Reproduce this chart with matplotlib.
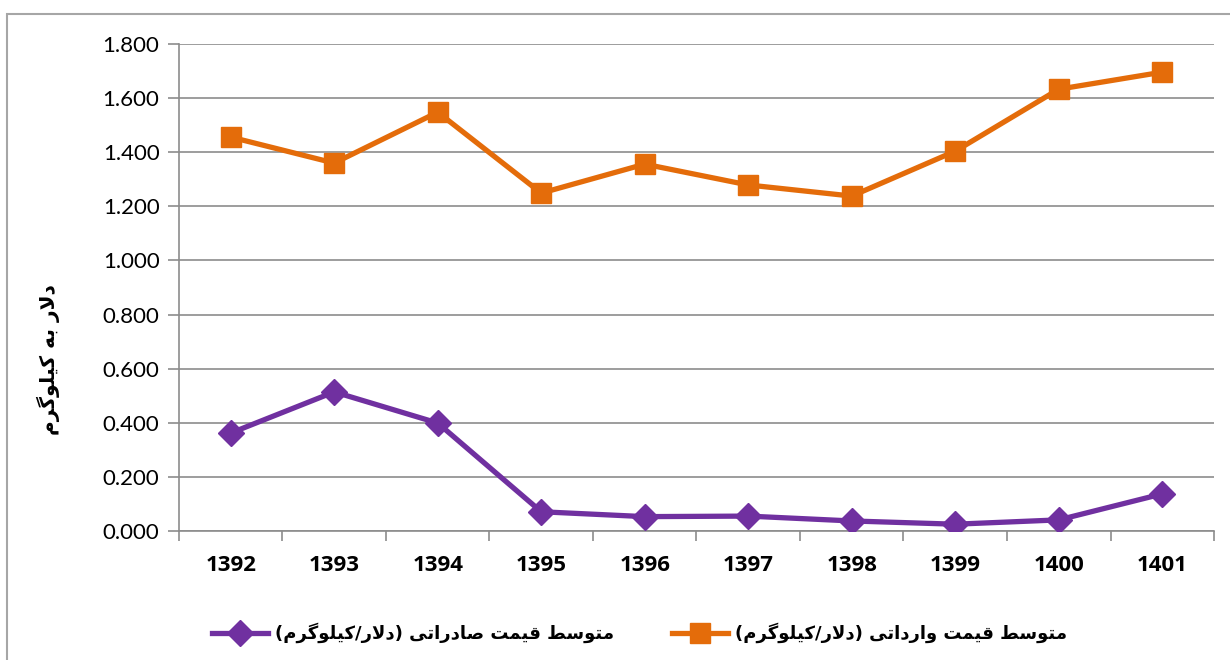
import matplotlib
matplotlib.use("Agg")

import matplotlib.pyplot as plt
from matplotlib.patches import Rectangle
from matplotlib.ticker import FixedLocator, FuncFormatter

years = ["1392", "1393", "1394", "1395", "1396", "1397", "1398", "1399", "1400", "1401"]
import_price = [1.456, 1.360, 1.548, 1.249, 1.356, 1.279, 1.238, 1.404, 1.633, 1.696]
export_price = [0.362, 0.514, 0.399, 0.071, 0.053, 0.055, 0.037, 0.025, 0.041, 0.137]

export_label = "متوسط قیمت صادراتی (دلار/کیلوگرم)"
import_label = "متوسط قیمت وارداتی (دلار/کیلوگرم)"
y_label = "دلار به کیلوگرم"

# contextual forms: isolated, final, initial, medial (None = does not join forward)
FORMS = {
    "ا": ("\uFE8D", "\uFE8E", None, None),
    "د": ("\uFEA9", "\uFEAA", None, None),
    "ر": ("\uFEAD", "\uFEAE", None, None),
    "و": ("\uFEED", "\uFEEE", None, None),
    "ب": ("\uFE8F", "\uFE90", "\uFE91", "\uFE92"),
    "ت": ("\uFE95", "\uFE96", "\uFE97", "\uFE98"),
    "س": ("\uFEB1", "\uFEB2", "\uFEB3", "\uFEB4"),
    "ص": ("\uFEB9", "\uFEBA", "\uFEBB", "\uFEBC"),
    "ط": ("\uFEC1", "\uFEC2", "\uFEC3", "\uFEC4"),
    "ق": ("\uFED5", "\uFED6", "\uFED7", "\uFED8"),
    "ل": ("\uFEDD", "\uFEDE", "\uFEDF", "\uFEE0"),
    "م": ("\uFEE1", "\uFEE2", "\uFEE3", "\uFEE4"),
    "ه": ("\uFEE9", "\uFEEA", "\uFEEB", "\uFEEC"),
    "ی": ("\uFBFC", "\uFBFD", "\uFBFE", "\uFBFF"),
    "ک": ("\uFB8E", "\uFB8F", "\uFB90", "\uFB91"),
    "گ": ("\uFB92", "\uFB93", "\uFB94", "\uFB95"),
}


def joins_forward(ch):
    return ch in FORMS and FORMS[ch][2] is not None


def shape(text):
    """Join Persian letters and lay the string out right-to-left."""
    out = []
    chars = list(text)
    i = 0
    while i < len(chars):
        ch = chars[i]
        prev = chars[i - 1] if i > 0 else ""
        nxt = chars[i + 1] if i + 1 < len(chars) else ""
        if ch not in FORMS:
            out.append(ch)
            i += 1
            continue
        left = joins_forward(prev)
        if ch == "ل" and nxt == "ا":
            out.append("\uFEFC" if left else "\uFEFB")
            i += 2
            continue
        right = joins_forward(ch) and nxt in FORMS
        iso, fin, ini, med = FORMS[ch]
        if left and right:
            out.append(med)
        elif left:
            out.append(fin)
        elif right:
            out.append(ini)
        else:
            out.append(iso)
        i += 1
    s = "".join(reversed(out))
    return s.translate(str.maketrans("()", ")("))


plt.rcParams["font.family"] = ["Lato", "DejaVu Sans"]

ORANGE = "#E46C0A"
PURPLE = "#7030A0"
GRID = "#8C8C8C"

fig = plt.figure(figsize=(12.3, 6.6), dpi=100)
ax = fig.add_axes([0.1455, 0.1955, 0.8415, 0.7378])

x = list(range(len(years)))
ax.plot(x, export_price, color=PURPLE, lw=3.8, marker="D", ms=13,
        label=shape(export_label), zorder=3)
ax.plot(x, import_price, color=ORANGE, lw=3.8, marker="s", ms=15,
        label=shape(import_label), zorder=3)

ax.set_xlim(-0.5, len(years) - 0.5)
ax.set_ylim(0, 1.8)
ax.set_yticks([i * 0.2 for i in range(10)])
ax.yaxis.set_major_formatter(FuncFormatter(lambda v, p: f"{v:.3f}"))
ax.grid(axis="y", color=GRID, lw=1.2)
ax.set_axisbelow(True)

ax.set_xticks(x)
ax.set_xticklabels(years, family="Open Sans", fontsize=16, fontweight="bold")
ax.xaxis.set_minor_locator(FixedLocator([i - 0.5 for i in range(len(years) + 1)]))
ax.tick_params(axis="x", which="major", length=0, pad=17)
ax.tick_params(axis="x", which="minor", length=7, color=GRID, width=1.2)
ax.tick_params(axis="y", length=8, color=GRID, width=1.2, labelsize=16, pad=6)

for side in ("top", "right"):
    ax.spines[side].set_visible(False)
for side in ("left", "bottom"):
    ax.spines[side].set_color(GRID)
    ax.spines[side].set_linewidth(1.2)

ax.text(-0.1266, 0.351, shape(y_label), transform=ax.transAxes, rotation=90,
        ha="center", va="center", family="DejaVu Sans", fontsize=14.5,
        fontweight="bold")

ax.legend(loc="upper center", bbox_to_anchor=(0.445, -0.155), ncol=2,
          frameon=False, prop={"family": "DejaVu Sans", "weight": "bold", "size": 13},
          handlelength=3.1, columnspacing=3.2, handletextpad=0.4)

# chart frame, open on the right and bottom edges
fig.patches.append(Rectangle((7 / 1230, -0.1), 1.2, 1.1 - 14 / 660,
                             transform=fig.transFigure, fill=False,
                             edgecolor="#A6A6A6", lw=1.5))

fig.savefig("out.png", dpi=100)
